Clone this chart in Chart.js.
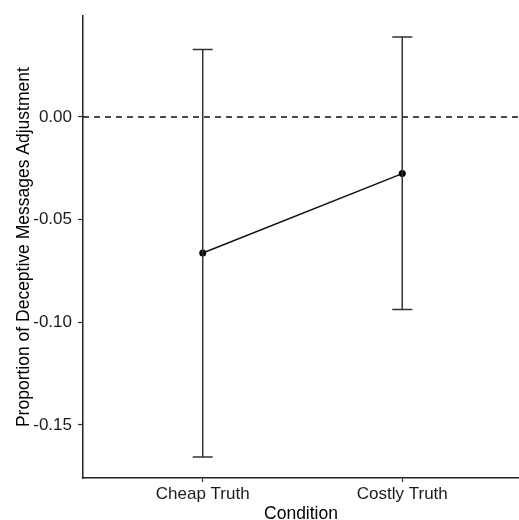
<!DOCTYPE html>
<html>
<head>
<meta charset="utf-8">
<script src="https://cdn.jsdelivr.net/npm/chart.js@4/dist/chart.umd.min.js"></script>
<style>
  html, body { margin: 0; padding: 0; background: #fff; }
</style>
</head>
<body>
<canvas id="myChart" width="519" height="520"></canvas>
<script>
  // values
  const conditions = ['Cheap Truth', 'Costly Truth'];
  const means = [-0.0663, -0.0276];
  const upper = [0.0329, 0.0390];
  const lower = [-0.1657, -0.0938];
  const yTicks = [-0.15, -0.10, -0.05, 0.00];
  const refLine = 0;

  const xMin = 0.4, xMax = 2.585;
  const font = "'Liberation Sans', Arial, sans-serif";

  // error bars drawn through the chart scales
  const errorBars = {
    id: 'errorBars',
    afterDatasetsDraw(chart) {
      const { ctx, scales: { x, y } } = chart;
      ctx.save();
      ctx.strokeStyle = '#333';
      ctx.lineWidth = 1.5;
      conditions.forEach((c, i) => {
        const px = x.getPixelForValue(i + 1);
        const top = y.getPixelForValue(upper[i]);
        const bot = y.getPixelForValue(lower[i]);
        ctx.beginPath();
        ctx.moveTo(px, top); ctx.lineTo(px, bot);
        ctx.moveTo(px - 10, top); ctx.lineTo(px + 10, top);
        ctx.moveTo(px - 10, bot); ctx.lineTo(px + 10, bot);
        ctx.stroke();
      });
      ctx.restore();
    }
  };

  const ctx = document.getElementById('myChart').getContext('2d');
  const chart = new Chart(ctx, {
    type: 'scatter',
    data: {
      datasets: [
        {
          data: conditions.map((c, i) => ({ x: i + 1, y: means[i] })),
          showLine: true,
          borderColor: '#111',
          borderWidth: 1.5,
          backgroundColor: '#000',
          pointRadius: 3.5,
          pointBorderWidth: 0
        },
        {
          data: [{ x: xMin, y: refLine }, { x: xMax, y: refLine }],
          showLine: true,
          borderColor: '#111',
          borderWidth: 1.3,
          borderDash: [6, 5],
          pointRadius: 0
        }
      ]
    },
    options: {
      responsive: false,
      animation: false,
      layout: { autoPadding: false, padding: { top: 15, left: 0, right: 0, bottom: 0 } },
      plugins: { legend: { display: false }, tooltip: { enabled: false } },
      scales: {
        x: {
          type: 'linear',
          min: xMin,
          max: xMax,
          afterBuildTicks: s => { s.ticks = conditions.map((c, i) => ({ value: i + 1 })); },
          afterFit: s => { s.height = 42; s.paddingLeft = 0; s.paddingRight = 0; },
          ticks: {
            callback: v => conditions[v - 1],
            color: '#1a1a1a',
            padding: 2,
            font: { family: font, size: 17 }
          },
          grid: { drawOnChartArea: false, tickLength: 4, tickColor: '#333', tickWidth: 1.2 },
          border: { color: '#222', width: 1.5 },
          title: {
            display: true,
            text: 'Condition',
            color: '#000',
            font: { family: font, size: 17.5 },
            padding: { top: 0, bottom: -5 }
          }
        },
        y: {
          min: -0.1759,
          max: 0.0491,
          afterBuildTicks: s => { s.ticks = yTicks.map(v => ({ value: v })); },
          afterFit: s => { s.width = 83; },
          ticks: {
            callback: v => v.toFixed(2),
            color: '#1a1a1a',
            padding: 6,
            font: { family: font, size: 17 }
          },
          grid: { drawOnChartArea: false, tickLength: 5, tickColor: '#333', tickWidth: 1.2 },
          border: { color: '#222', width: 1.5 },
          title: {
            display: true,
            text: 'Proportion of Deceptive Messages Adjustment',
            color: '#000',
            font: { family: font, size: 17.5 },
            padding: { top: 14, bottom: 0 }
          }
        }
      }
    },
    plugins: [errorBars]
  });
</script>
</body>
</html>
